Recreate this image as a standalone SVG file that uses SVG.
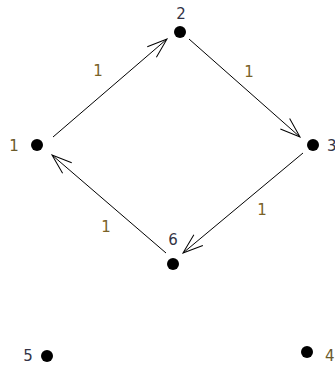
<svg xmlns="http://www.w3.org/2000/svg" width="335" height="366" viewBox="0 0 335 366">
<style>
.dot{fill:#000}
.edge{stroke:#000;stroke-width:1;fill:none}
.nl{font-family:"DejaVu Sans",Verdana,sans-serif;font-size:15px;fill:#333345;text-anchor:middle}
.el{font-family:"DejaVu Sans",Verdana,sans-serif;font-size:15px;fill:#7a6228;text-anchor:middle}
</style>
<defs>
<marker id="arr" viewBox="0 0 22 20" refX="21" refY="10" markerWidth="22" markerHeight="20" markerUnits="userSpaceOnUse" orient="auto">
<path d="M1,3 L21,10 L1,17" fill="none" stroke="#000" stroke-width="1"/>
</marker>
</defs>
<rect width="335" height="366" fill="#fff"/>
<g id="connectors">
<line class="edge" x1="53" y1="137" x2="167" y2="39" marker-end="url(#arr)"/>
<line class="edge" x1="189" y1="39" x2="300" y2="137" marker-end="url(#arr)"/>
<line class="edge" x1="303" y1="153" x2="183" y2="253" marker-end="url(#arr)"/>
<line class="edge" x1="166" y1="253" x2="52" y2="155" marker-end="url(#arr)"/>
<text class="el" x="98" y="76">1</text>
<text class="el" x="249" y="77">1</text>
<text class="el" x="262" y="215">1</text>
<text class="el" x="106" y="232">1</text>
</g>
<g id="node1"><circle class="dot" cx="37" cy="145" r="6"/><text class="nl" x="14" y="151" style="fill:#6b5a2a">1</text></g>
<g id="node2"><circle class="dot" cx="180" cy="32" r="6"/><text class="nl" x="181" y="19">2</text></g>
<g id="node3"><circle class="dot" cx="313" cy="145" r="6"/><text class="nl" x="327" y="151" style="text-anchor:start">3</text></g>
<g id="node4"><circle class="dot" cx="307" cy="352" r="6"/><text class="nl" x="325" y="361" style="fill:#6b5a2a;text-anchor:start">4</text></g>
<g id="node5"><circle class="dot" cx="47" cy="356" r="6"/><text class="nl" x="28" y="361">5</text></g>
<g id="node6"><circle class="dot" cx="173" cy="264" r="6"/><text class="nl" x="173" y="245">6</text></g>
</svg>
